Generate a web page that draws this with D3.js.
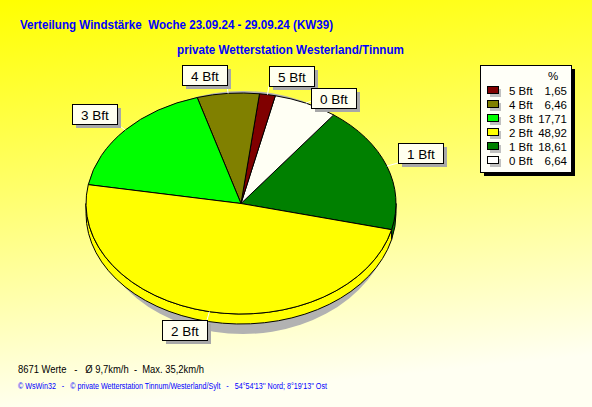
<!DOCTYPE html>
<html><head><meta charset="utf-8">
<script src="https://cdn.jsdelivr.net/npm/d3@7/dist/d3.min.js"></script>
<style>html,body{margin:0;padding:0;overflow:hidden;background:#fff}svg{display:block}text{white-space:pre}</style>
</head><body>
<script>
// ---- data ----
const categories = ["5 Bft", "4 Bft", "3 Bft", "2 Bft", "1 Bft", "0 Bft"];
const percents   = [1.65, 6.46, 17.71, 48.92, 18.61, 6.64];
const pieOrder   = ["1 Bft", "0 Bft", "5 Bft", "4 Bft", "3 Bft", "2 Bft"];
const colors     = ["#800000", "#808000", "#00ff00", "#ffff00", "#008000", "#fffff4"];
const title1 = "Verteilung Windstärke  Woche 23.09.24 - 29.09.24 (KW39)";
const title2 = "private Wetterstation Westerland/Tinnum";
const footer1 = "8671 Werte   -   Ø 9,7km/h  -  Max. 35,2km/h";
const footer2 = "© WsWin32   -   © private Wetterstation Tinnum/Westerland/Sylt   -   54°54'13'' Nord; 8°19'13'' Ost";

const W = 592, H = 407;
const svg = d3.select("body").append("svg").attr("width", W).attr("height", H);
const defs = svg.append("defs");
const grad = defs.append("linearGradient").attr("id", "bg").attr("x1", 0).attr("y1", 0).attr("x2", 0.15).attr("y2", 1);
grad.append("stop").attr("offset", "0%").attr("stop-color", "#ffff00");
grad.append("stop").attr("offset", "45%").attr("stop-color", "#ffff68");
grad.append("stop").attr("offset", "100%").attr("stop-color", "#fffff2");
svg.append("rect").attr("width", W).attr("height", H).attr("fill", "url(#bg)");

// titles
svg.append("text").attr("x", 20).attr("y", 29).attr("fill", "#0000ff")
  .style("font", "bold 13px 'Liberation Sans', Arial, sans-serif")
  .attr("textLength", 313).attr("lengthAdjust", "spacingAndGlyphs").text(title1);
svg.append("text").attr("x", 177).attr("y", 54).attr("fill", "#0000ff")
  .style("font", "bold 13px 'Liberation Sans', Arial, sans-serif")
  .attr("textLength", 227).attr("lengthAdjust", "spacingAndGlyphs").text(title2);

// ---- pie ----
const cx = 241, cy = 203.5, rx = 155, ry = 110.5, depth = 10;
const colorOf = d3.scaleOrdinal().domain(categories).range(colors);
const valueOf = new Map(categories.map((c, i) => [c, percents[i]]));
const start = 103.7 * Math.PI / 180;
const pie = d3.pie().sort(null).value(d => valueOf.get(d))
  .startAngle(start).endAngle(start - 2 * Math.PI);
const arcs = pie(pieOrder);
const P = (a, f = 1, dy = 0) => [cx + rx * f * Math.sin(a), cy - ry * f * Math.cos(a) + dy];

// shadow
svg.append("ellipse").attr("cx", cx + 2).attr("cy", cy + 9).attr("rx", rx - 5).attr("ry", ry + 11)
  .attr("fill", "#b2b2b2");

const g = svg.append("g");
const TAU = 2 * Math.PI;
// side walls (front half: angle in [pi/2, 3pi/2])
arcs.forEach(d => {
  const lo = Math.min(d.startAngle, d.endAngle), hi = Math.max(d.startAngle, d.endAngle);
  [-TAU, 0, TAU].forEach(sh => {
    const a0 = Math.max(lo + sh, Math.PI / 2), a1 = Math.min(hi + sh, 3 * Math.PI / 2);
    if (a1 - a0 > 0.001) {
      const p0 = P(a0), p1 = P(a1), q1 = P(a1, 1, depth), q0 = P(a0, 1, depth);
      const path = `M${p0}A${rx},${ry} 0 0 1 ${p1}L${q1}A${rx},${ry} 0 0 0 ${q0}Z`;
      g.append("path").attr("d", path).attr("fill", colorOf(d.data))
        .attr("stroke", "#000").attr("stroke-width", 1).attr("stroke-linejoin", "round");
    }
  });
});
// top faces
arcs.forEach(d => {
  const p0 = P(d.startAngle), p1 = P(d.endAngle);
  const large = Math.abs(d.endAngle - d.startAngle) > Math.PI ? 1 : 0;
  const path = `M${cx},${cy}L${p0}A${rx},${ry} 0 ${large} 0 ${p1}Z`;
  g.append("path").attr("d", path).attr("fill", colorOf(d.data))
    .attr("stroke", "#000").attr("stroke-width", 1).attr("stroke-linejoin", "round");
});

// labels (placed from top to bottom, avoiding overlaps)
const placed = [];
const lab = svg.append("g").style("font", "13.5px 'Liberation Sans', Arial, sans-serif");
const labelArcs = arcs.map(d => {
  const a = (d.startAngle + d.endAngle) / 2;
  return {d, a, e: P(a, 1.0), an: P(a, 1.075)};
}).sort((p, q) => p.an[1] - q.an[1]);
labelArcs.forEach(({d, a, e, an}) => {
  const t = lab.append("text").text(d.data);
  const tw = t.node().getComputedTextLength() || 28;
  const bw = Math.round(tw + 17), bh = 20;
  let x = Math.sin(a) >= 0 ? an[0] : an[0] - bw;
  let y = Math.cos(a) > 0 ? an[1] - bh : an[1];
  x = Math.round(x); y = Math.round(y);
  for (let iter = 0; iter < 10; iter++) {
    let moved = false;
    for (const b of placed) {
      if (x < b.x + b.w + 4 && x + bw + 4 > b.x && y < b.y + b.h + 4 && y + bh + 4 > b.y) {
        y = b.y + b.h + 2; moved = true;
        break;
      }
    }
    if (!moved) break;
  }
  placed.push({x, y, w: bw, h: bh});
  const lx = Math.sin(a) >= 0 ? x : x + bw;
  const ly = Math.cos(a) > 0 ? Math.min(y + bh, Math.max(y, e[1] - 2)) : y;
  lab.insert("line", "text").attr("x1", e[0]).attr("y1", e[1]).attr("x2", lx).attr("y2", ly)
    .attr("stroke", "#ffffff").attr("stroke-width", 1);
  lab.insert("rect", "text").attr("x", x + 4).attr("y", y + 4).attr("width", bw).attr("height", bh)
    .attr("fill", "#a8a8a8").attr("shape-rendering", "crispEdges");
  lab.insert("rect", "text").attr("x", x + 0.5).attr("y", y + 0.5).attr("width", bw).attr("height", bh)
    .attr("fill", "#fffff0").attr("stroke", "#000").attr("shape-rendering", "crispEdges");
  t.attr("x", x + bw / 2 + 0.5).attr("y", y + 15.5).attr("text-anchor", "middle").attr("fill", "#000");
  t.raise();
});

// ---- legend ----
const L = {x: 480, y: 65, w: 91, h: 107};
const lg = svg.append("g").style("font", "11.5px 'Liberation Sans', Arial, sans-serif");
lg.append("rect").attr("x", L.x + 4).attr("y", L.y + 4).attr("width", L.w).attr("height", L.h)
  .attr("fill", "#000").attr("shape-rendering", "crispEdges");
lg.append("rect").attr("x", L.x + 0.5).attr("y", L.y + 0.5).attr("width", L.w).attr("height", L.h)
  .attr("fill", "#fffff8").attr("stroke", "#000").attr("shape-rendering", "crispEdges");
lg.append("text").attr("x", 553).attr("y", 80).attr("text-anchor", "middle").text("%");
const rowY = d3.scalePoint().domain(categories).range([91, 161]);
categories.forEach((c, i) => {
  const y = rowY(c);
  lg.append("rect").attr("x", 490).attr("y", y - 2).attr("width", 11).attr("height", 8)
    .attr("fill", "#c0c0c0").attr("shape-rendering", "crispEdges");
  lg.append("rect").attr("x", 487.5).attr("y", y - 4.5).attr("width", 11).attr("height", 7)
    .attr("fill", c === "0 Bft" ? "#ffffff" : colorOf(c)).attr("stroke", "#000")
    .attr("shape-rendering", "crispEdges");
  lg.append("text").attr("x", 509).attr("y", y + 4).text(c);
  lg.append("text").attr("x", 567).attr("y", y + 4).attr("text-anchor", "end")
    .text(d3.format(".2f")(percents[i]).replace(".", ","));
});

// ---- footer ----
svg.append("text").attr("x", 18).attr("y", 373).attr("fill", "#000")
  .style("font", "11px 'Liberation Sans', Arial, sans-serif")
  .attr("textLength", 186).attr("lengthAdjust", "spacingAndGlyphs").text(footer1);
svg.append("text").attr("x", 18).attr("y", 389).attr("fill", "#0000ff")
  .style("font", "8.5px 'Liberation Sans', Arial, sans-serif")
  .attr("textLength", 309).attr("lengthAdjust", "spacingAndGlyphs").text(footer2);
</script>
</body></html>
